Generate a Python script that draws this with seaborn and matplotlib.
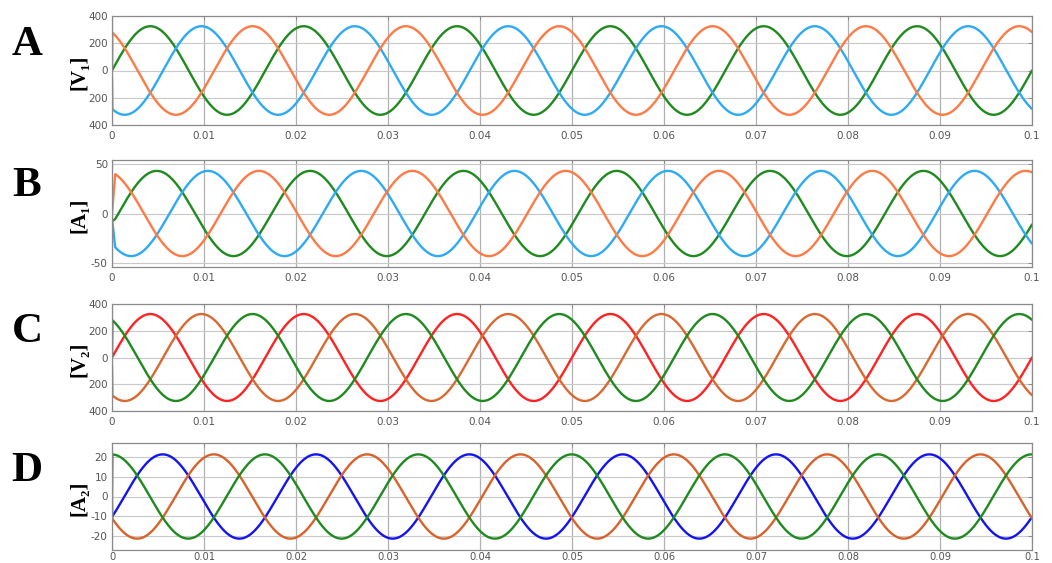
import numpy as np
import pandas as pd
import matplotlib
matplotlib.use("Agg")
import matplotlib.pyplot as plt
import seaborn as sns

# ---------------- data ----------------
FREQ_HZ = 60.0
T_END = 0.1
x_ticks = [0, 0.01, 0.02, 0.03, 0.04, 0.05, 0.06, 0.07, 0.08, 0.09, 0.1]
x_ticklabels = ["0", "0.01", "0.02", "0.03", "0.04", "0.05", "0.06", "0.07", "0.08", "0.09", "0.1"]

panel_letters = ["A", "B", "C", "D"]
panel_ylabels = ["[V\u2081]", "[A\u2081]", "[V\u2082]", "[A\u2082]"]

# Panel A : source voltages (V1)
A_series = ["va", "vb", "vc"]
A_amp = [325, 325, 325]
A_phase_deg = [0, -120, 120]
A_start = [0, -50, 0]
A_ramp = 0.00004
A_yticks = [-400, -200, 0, 200, 400]
A_yticklabels = ["400", "200", "0", "200", "400"]
A_ylim = (-400, 400)

# Panel B : source currents (A1)
B_series = ["ia", "ib", "ic"]
B_amp = [43, 43, 43]
B_phase_deg = [-15, -135, 105]
B_start = [-8, -5, 0]
B_ramp = 0.00035
B_yticks = [-50, 0, 50]
B_yticklabels = ["-50", "0", "50"]
B_ylim = (-54, 54)

# Panel C : load voltages (V2)
C_series = ["va", "vb", "vc"]
C_amp = [325, 325, 325]
C_phase_deg = [0, -120, 120]
C_start = [0, -60, 20]
C_ramp = 0.00004
C_yticks = [-400, -200, 0, 200, 400]
C_yticklabels = ["400", "200", "0", "200", "400"]
C_ylim = (-400, 400)

# Panel D : load currents (A2)
D_series = ["ia", "ib", "ic"]
D_amp = [21.5, 21.5, 21.5]
D_phase_deg = [-29, -149, 91]
D_start = [-10, 0, 0]
D_ramp = 0.00004
D_yticks = [-20, -10, 0, 10, 20]
D_yticklabels = ["-20", "-10", "0", "10", "20"]
D_ylim = (-27.3, 27.3)

# ---------------- styles ----------------
A_colors = ["#1f8a1f", "#2eaaf5", "#ff7a45"]
B_colors = ["#1f8a1f", "#2eaaf5", "#ff7a45"]
C_colors = ["#ff2222", "#d9692f", "#1f8a1f"]
D_colors = ["#1414f0", "#d9622b", "#1f8a1f"]


def build_frame(names, amps, phases, starts, ramp):
    t = np.linspace(ramp, T_END, 3000)
    rows = []
    for name, a, ph, s0 in zip(names, amps, phases, starts):
        v = a * np.sin(2 * np.pi * FREQ_HZ * t + np.deg2rad(ph))
        tt = np.concatenate([[0.0], t])
        vv = np.concatenate([[s0], v])
        rows.append(pd.DataFrame({"t": tt, "v": vv, "series": name}))
    return pd.concat(rows, ignore_index=True)


panels = [
    (A_series, A_amp, A_phase_deg, A_start, A_ramp, A_yticks, A_yticklabels, A_ylim, A_colors),
    (B_series, B_amp, B_phase_deg, B_start, B_ramp, B_yticks, B_yticklabels, B_ylim, B_colors),
    (C_series, C_amp, C_phase_deg, C_start, C_ramp, C_yticks, C_yticklabels, C_ylim, C_colors),
    (D_series, D_amp, D_phase_deg, D_start, D_ramp, D_yticks, D_yticklabels, D_ylim, D_colors),
]

sns.set_style("white")
plt.rcParams["font.family"] = ["DejaVu Sans"]

W, H = 1052, 563
fig = plt.figure(figsize=(W / 100, H / 100), dpi=100)

# axes pixel boxes (top, bottom)
boxes = [(16, 125), (160, 267), (304, 411), (443, 550)]
left_px, right_px = 112, 1032
letter_y = [45, 186, 332, 471]

serif = ["Liberation Serif", "DejaVu Serif"]

for i, (names, amps, phs, starts, ramp, yt, ytl, ylim, cols) in enumerate(panels):
    top, bot = boxes[i]
    ax = fig.add_axes([left_px / W, 1 - bot / H, (right_px - left_px) / W, (bot - top) / H])
    df = build_frame(names, amps, phs, starts, ramp)
    pal = dict(zip(names, cols))
    sns.lineplot(data=df, x="t", y="v", hue="series", palette=pal, ax=ax,
                 legend=False, linewidth=1.7, estimator=None, sort=False)
    ax.set_xlim(0, T_END)
    ax.set_ylim(*ylim)
    ax.set_xticks(x_ticks)
    ax.set_xticklabels(x_ticklabels)
    ax.set_yticks(yt)
    ax.set_yticklabels(ytl)
    ax.set_xlabel("")
    ax.set_ylabel("")
    ax.grid(True, axis="y", color="#c8c8c8", linewidth=0.8)
    ax.grid(True, axis="x", color="#b0b0b0", linewidth=0.9)
    ax.set_axisbelow(True)
    for s in ax.spines.values():
        s.set_color("#8a8a8a")
        s.set_linewidth(0.9)
    ax.tick_params(axis="both", direction="in", length=3, width=0.7, color="#8a8a8a",
                   labelsize=7.5, labelcolor="#555555", top=True, right=True, pad=4)
    ax.tick_params(axis="y", pad=3)
    if i == len(panels) - 1:
        ax.tick_params(axis="x", pad=1.5, labelsize=7.2)

    fig.text(27 / W, 1 - letter_y[i] / H, panel_letters[i], fontsize=31, fontweight="bold",
             family=serif, ha="center", va="center", color="black")
    fig.text(79 / W, 1 - ((top + bot) / 2 + 2) / H, panel_ylabels[i], fontsize=15,
             fontweight="bold", family=serif, rotation=90, ha="center", va="center",
             color="black")

fig.savefig("out.png", dpi=100)
